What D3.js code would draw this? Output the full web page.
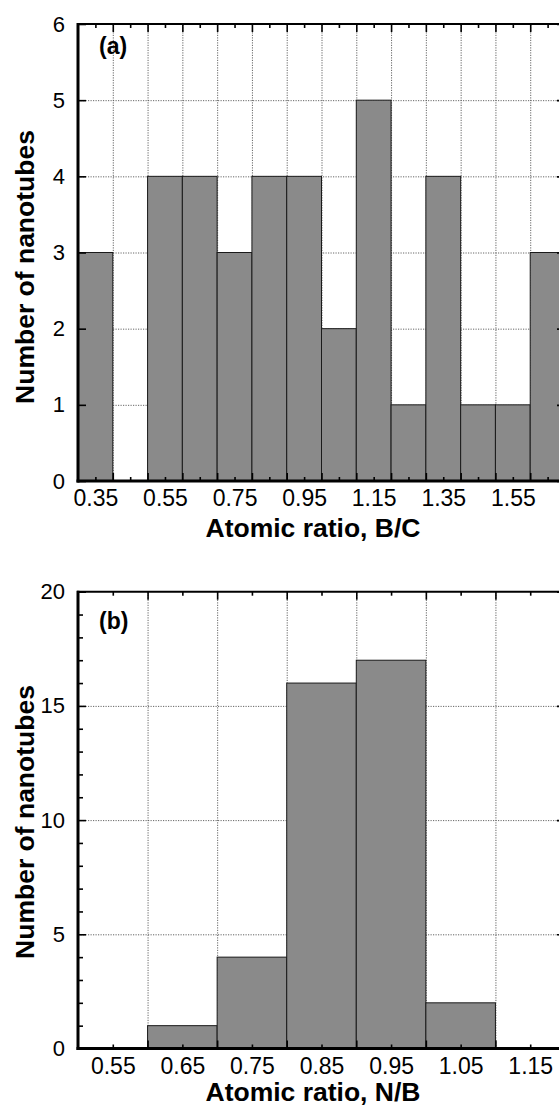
<!DOCTYPE html>
<html>
<head>
<meta charset="utf-8">
<script src="https://cdn.jsdelivr.net/npm/d3@7"></script>
<style>
  body { margin: 0; background: #fff; }
  svg { display: block; font-family: "Liberation Sans", Arial, sans-serif; }
</style>
</head>
<body>
<div id="chart"></div>
<script>
// panel (a): B/C histogram
const aBins = [0.3, 0.4, 0.5, 0.6, 0.7, 0.8, 0.9, 1.0, 1.1, 1.2, 1.3, 1.4, 1.5, 1.6];
const aCounts = [3, 0, 4, 4, 3, 4, 4, 2, 5, 1, 4, 1, 1, 3];
const aXLabels = ["0.35", "0.55", "0.75", "0.95", "1.15", "1.35", "1.55"];
const aYTicks = [0, 1, 2, 3, 4, 5, 6];
const aYGrid = [1, 2, 3, 4, 5];

// panel (b): N/B histogram
const bBins = [0.5, 0.6, 0.7, 0.8, 0.9, 1.0, 1.1];
const bCounts = [0, 1, 4, 16, 17, 2, 0];
const bXLabels = ["0.55", "0.65", "0.75", "0.85", "0.95", "1.05", "1.15"];
const bYTicks = [0, 5, 10, 15, 20];
const bYMinor = [1, 2, 3, 4, 6, 7, 8, 9, 11, 12, 13, 14, 16, 17, 18, 19];
const bYGrid = [5, 10, 15];

const binWidth = 0.1;
const width = 559;
const height = 1106;

const svg = d3.select("#chart")
  .append("svg")
  .attr("width", width)
  .attr("height", height);

svg.append("rect").attr("width", width).attr("height", height).attr("fill", "#fff");

function drawPanel(p) {
  const x = d3.scaleLinear().domain(p.xDomain).range([p.left, p.right]);
  const y = d3.scaleLinear().domain([0, p.yMax]).range([p.bottom, p.top]);
  const g = svg.append("g");
  const bins = p.bins.map((b, i) => ({ start: b, end: +(b + binWidth).toFixed(2), count: p.counts[i] }));
  const edges = bins.slice(1).map(d => d.start);
  const centers = bins.map(d => +(d.start + binWidth / 2).toFixed(2));

  // dotted grid
  g.append("g")
    .attr("transform", `translate(0,${p.bottom})`)
    .call(d3.axisBottom(x).tickValues(edges).tickSize(-(p.bottom - p.top)).tickFormat(""))
    .call(s => s.select(".domain").remove());
  g.append("g")
    .attr("transform", `translate(${p.left},0)`)
    .call(d3.axisLeft(y).tickValues(p.yGrid).tickSize(-(p.right - p.left)).tickFormat(""))
    .call(s => s.select(".domain").remove());
  g.selectAll(".tick line")
    .attr("stroke", "#555")
    .attr("stroke-width", 0.9)
    .attr("stroke-dasharray", "1.2,1.3");

  // bars
  g.append("g")
    .selectAll("rect")
    .data(bins.filter(d => d.count > 0))
    .join("rect")
    .attr("x", d => x(d.start))
    .attr("y", d => y(d.count))
    .attr("width", d => x(d.end) - x(d.start))
    .attr("height", d => y(0) - y(d.count))
    .attr("fill", "#8a8a8a")
    .attr("stroke", "#1a1a1a")
    .attr("stroke-width", 1);

  // inward ticks
  const tickGroups = [];
  tickGroups.push(g.append("g").attr("transform", `translate(0,${p.bottom})`)
    .call(d3.axisBottom(x).tickValues(edges).tickSize(-8).tickFormat("")));
  tickGroups.push(g.append("g").attr("transform", `translate(0,${p.bottom})`)
    .call(d3.axisBottom(x).tickValues(centers).tickSize(-4).tickFormat("")));
  tickGroups.push(g.append("g").attr("transform", `translate(0,${p.top})`)
    .call(d3.axisTop(x).tickValues(edges).tickSize(-8).tickFormat("")));
  tickGroups.push(g.append("g").attr("transform", `translate(0,${p.top})`)
    .call(d3.axisTop(x).tickValues(centers).tickSize(-4).tickFormat("")));
  tickGroups.push(g.append("g").attr("transform", `translate(${p.left},0)`)
    .call(d3.axisLeft(y).tickValues(p.yTicks).tickSize(-8).tickFormat("")));
  tickGroups.push(g.append("g").attr("transform", `translate(${p.right},0)`)
    .call(d3.axisRight(y).tickValues(p.yTicks).tickSize(-8).tickFormat("")));
  if (p.yMinor) {
    tickGroups.push(g.append("g").attr("transform", `translate(${p.left},0)`)
      .call(d3.axisLeft(y).tickValues(p.yMinor).tickSize(-5).tickFormat("")));
    tickGroups.push(g.append("g").attr("transform", `translate(${p.right},0)`)
      .call(d3.axisRight(y).tickValues(p.yMinor).tickSize(-5).tickFormat("")));
  }
  tickGroups.forEach(t => {
    t.select(".domain").remove();
    t.selectAll(".tick line").attr("stroke", "#000").attr("stroke-width", 1.6);
  });

  // frame
  g.append("line").attr("x1", p.left - 1).attr("x2", p.right).attr("y1", p.top).attr("y2", p.top)
    .attr("stroke", "#000").attr("stroke-width", 2);
  g.append("line").attr("x1", p.right).attr("x2", p.right).attr("y1", p.top).attr("y2", p.bottom)
    .attr("stroke", "#000").attr("stroke-width", 2);
  g.append("line").attr("x1", p.left).attr("x2", p.left).attr("y1", p.top - 1).attr("y2", p.bottom + 1.5)
    .attr("stroke", "#000").attr("stroke-width", 3);
  g.append("line").attr("x1", p.left - 1.5).attr("x2", p.right).attr("y1", p.bottom).attr("y2", p.bottom)
    .attr("stroke", "#000").attr("stroke-width", 3);

  // tick labels
  const xl = g.append("g").attr("transform", `translate(0,${p.bottom})`)
    .call(d3.axisBottom(x).tickValues(p.xLabels.map(Number)).tickFormat((d, i) => p.xLabels[i]).tickSize(0).tickPadding(9));
  const yl = g.append("g").attr("transform", `translate(${p.left},0)`)
    .call(d3.axisLeft(y).tickValues(p.yTicks).tickFormat(d3.format("d")).tickSize(0).tickPadding(13));
  [xl, yl].forEach(a => {
    a.select(".domain").remove();
    a.selectAll("text")
      .attr("fill", "#000")
      .style("font-family", "Liberation Sans, Arial, sans-serif")
      .style("font-size", a === xl ? "23px" : "22px");
  });

  // titles
  g.append("text")
    .attr("x", 313)
    .attr("y", p.bottom + p.xTitleDy)
    .attr("text-anchor", "middle")
    .style("font-size", "26.5px")
    .style("font-weight", "bold")
    .text(p.xTitle);
  g.append("text")
    .attr("transform", `translate(34,${p.yTitleY}) rotate(-90)`)
    .attr("text-anchor", "middle")
    .style("font-size", "26.5px")
    .style("font-weight", "bold")
    .text("Number of nanotubes");
  g.append("text")
    .attr("x", p.left + 21)
    .attr("y", p.top + p.tagDy)
    .style("font-size", "23px")
    .style("font-weight", "bold")
    .text(p.tag);
}

drawPanel({
  bins: aBins, counts: aCounts, xLabels: aXLabels, yTicks: aYTicks, yGrid: aYGrid,
  xDomain: [0.3, 1.7], yMax: 6,
  left: 78, right: 565, top: 24, bottom: 481,
  xTitle: "Atomic ratio, B/C", xTitleDy: 56, yTitleY: 267, tag: "(a)", tagDy: 30
});

drawPanel({
  bins: bBins, counts: bCounts, xLabels: bXLabels, yTicks: bYTicks, yGrid: bYGrid, yMinor: bYMinor,
  xDomain: [0.5, 1.2], yMax: 20,
  left: 78, right: 565, top: 591.7, bottom: 1048.5,
  xTitle: "Atomic ratio, N/B", xTitleDy: 52.5, yTitleY: 822, tag: "(b)", tagDy: 37
});
</script>
</body>
</html>
